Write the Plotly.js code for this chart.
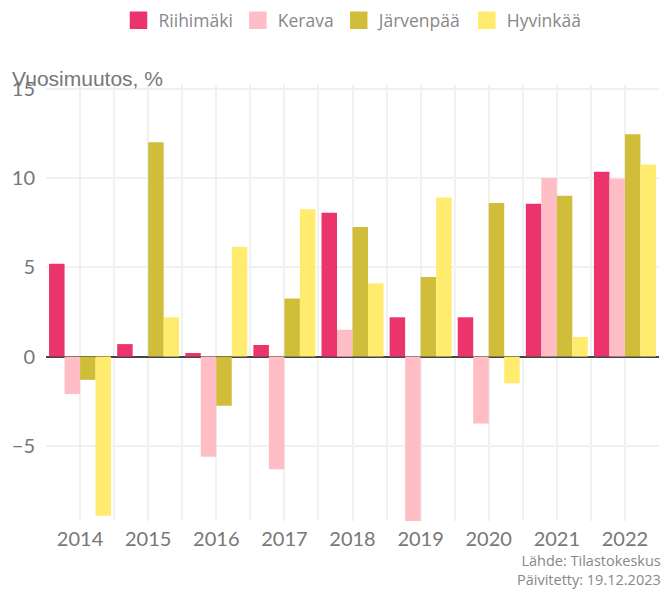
<!DOCTYPE html>
<html>
<head>
<meta charset="utf-8">
<script src="https://cdn.plot.ly/plotly-3.0.1.min.js"></script>
<style>html,body{margin:0;padding:0;background:#fff;}#chart{width:664px;height:592px;}</style>
</head>
<body>
<div id="chart"></div>
<script>
const years = [2014, 2015, 2016, 2017, 2018, 2019, 2020, 2021, 2022];
const seriesNames = ["Riihimäki", "Kerava", "Järvenpää", "Hyvinkää"];
const riihimaki = [5.2, 0.7, 0.2, 0.65, 8.05, 2.2, 2.2, 8.55, 10.35];
const kerava    = [-2.1, 0, -5.6, -6.3, 1.5, -9.3, -3.75, 10.0, 9.95];
const jarvenpaa = [-1.3, 12.0, -2.75, 3.25, 7.25, 4.45, 8.6, 9.0, 12.45];
const hyvinkaa  = [-8.9, 2.2, 6.15, 8.25, 4.1, 8.9, -1.5, 1.1, 10.75];
const colors = ["#EB336C", "#FFBDC6", "#D0BE3A", "#FFEC6E"];
const yTickVals = [-5, 0, 5, 10, 15];
const yTitle = "Vuosimuutos, %";
const caption = "Lähde: Tilastokeskus<br>Päivitetty: 19.12.2023";

const values = [riihimaki, kerava, jarvenpaa, hyvinkaa];
const traces = [];
values.forEach((v, i) => {
  traces.push({
    type: "bar", x: years, y: v, name: seriesNames[i],
    marker: {color: colors[i]}, showlegend: false, hoverinfo: "x+y+name"
  });
});
values.forEach((v, i) => {
  traces.push({
    type: "scatter", mode: "markers", x: [null], y: [null], name: seriesNames[i],
    marker: {symbol: "square", size: 16, color: colors[i], line: {width: 1.5, color: colors[i]}},
    showlegend: true, hoverinfo: "skip"
  });
});

const gridCol = "#f1f1f1";
const plotTop = 85, plotBottom = 521, plotLeft = 46, plotRight = 659;
const layout = {
  width: 664, height: 592,
  margin: {l: plotLeft, r: 664 - plotRight, t: plotTop, b: 592 - plotBottom},
  paper_bgcolor: "#fff", plot_bgcolor: "#fff",
  font: {family: "Lato, 'Open Sans', sans-serif", color: "#777"},
  barmode: "group", bargap: 0.09, bargroupgap: 0,
  showlegend: true,
  legend: {orientation: "h", x: 0.5, xanchor: "center", xref: "paper", y: 0.996, yref: "container", yanchor: "top",
           font: {family: "'Open Sans', sans-serif", size: 17.5, color: "#888"}, itemwidth: 30, traceorder: "normal"},
  xaxis: {
    type: "linear", range: [2013.5, 2022.5], tickmode: "array", tickvals: years,
    ticktext: years.map(String),
    showgrid: true, gridcolor: gridCol, gridwidth: 2, zeroline: false, showline: false,
    tickfont: {size: 20, color: "#777"}, ticks: "", ticklabelstandoff: 4,
    minor: {tickmode: "array", tickvals: years.map(y => y - 0.5).concat([years[years.length-1] + 0.5]), showgrid: true, gridcolor: gridCol, gridwidth: 2}
  },
  yaxis: {
    range: [-9.2, 15.2], tickmode: "array", tickvals: yTickVals,
    showgrid: true, gridcolor: gridCol, gridwidth: 2,
    zeroline: true, zerolinecolor: "#444", zerolinewidth: 2, showline: false,
    tickfont: {size: 20, color: "#777"}, ticks: "", ticklabelstandoff: 10
  },
  annotations: [
    {text: yTitle, xref: "paper", yref: "paper",
     x: (10 - plotLeft) / (plotRight - plotLeft), y: (plotBottom - 78) / (plotBottom - plotTop),
     xanchor: "left", yanchor: "middle",
     showarrow: false, font: {family: "'Liberation Sans', Arial, sans-serif", size: 21, color: "#777"}},
    {text: caption, xref: "paper", yref: "paper", x: (663 - plotLeft) / (plotRight - plotLeft), y: 0, xanchor: "right", yanchor: "bottom",
     yshift: -(592 - plotBottom) + 1, showarrow: false, align: "right", font: {family: "'Open Sans', sans-serif", size: 14.5, color: "#888"}}
  ]
};

Plotly.newPlot("chart", traces, layout, {displayModeBar: false, staticPlot: true});
</script>
</body>
</html>
